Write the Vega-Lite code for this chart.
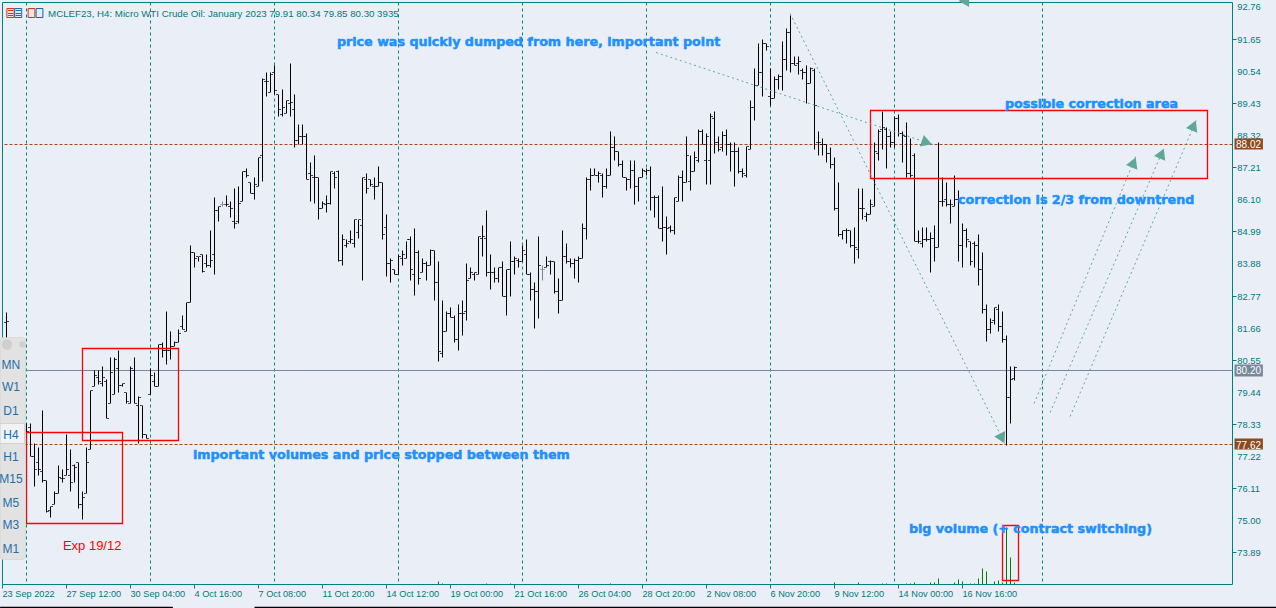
{
"$schema":"https://vega.github.io/schema/vega-lite/v6.json",
"width":1230,"height":582,
"autosize":{"type":"none"},
"padding":{"left":2.5,"top":2.5,"right":43.5,"bottom":23.5},
"background":"#eaeff7",
"config":{"view":{"stroke":null,"fill":"#eaeff7"},"text":{"font":"Liberation Sans"}},
"datasets":{
"bars":[
{"n":1,"h":82.19,"l":81.08,"o":81.87,"c":81.90},
{"n":6,"h":78.38,"l":77.69,"o":78.14,"c":78.10},
{"n":7,"h":78.35,"l":77.21,"o":78.21,"c":77.21},
{"n":8,"h":77.66,"l":76.17,"o":77.21,"c":76.76},
{"n":9,"h":77.52,"l":76.58,"o":77.00,"c":76.76},
{"n":10,"h":78.83,"l":76.34,"o":76.69,"c":76.38},
{"n":11,"h":76.41,"l":75.30,"o":76.38,"c":75.34},
{"n":12,"h":75.51,"l":75.13,"o":75.37,"c":75.48},
{"n":13,"h":76.00,"l":75.58,"o":75.58,"c":75.96},
{"n":14,"h":76.90,"l":75.93,"o":75.93,"c":76.51},
{"n":15,"h":76.76,"l":76.31,"o":76.48,"c":76.45},
{"n":16,"h":78.00,"l":76.58,"o":76.58,"c":76.79},
{"n":17,"h":77.45,"l":76.03,"o":76.58,"c":76.34},
{"n":18,"h":76.93,"l":76.34,"o":76.90,"c":76.86},
{"n":19,"h":77.03,"l":75.41,"o":77.00,"c":75.55},
{"n":20,"h":76.00,"l":75.06,"o":75.55,"c":75.82},
{"n":21,"h":77.55,"l":75.96,"o":75.96,"c":77.03},
{"n":22,"h":79.52,"l":77.45,"o":77.45,"c":79.49},
{"n":23,"h":80.21,"l":79.63,"o":79.63,"c":80.01},
{"n":24,"h":80.21,"l":79.70,"o":79.94,"c":79.83},
{"n":25,"h":80.32,"l":79.63,"o":79.73,"c":79.94},
{"n":26,"h":79.87,"l":78.55,"o":79.83,"c":78.55},
{"n":27,"h":80.66,"l":79.07,"o":79.07,"c":80.14},
{"n":28,"h":80.66,"l":79.35,"o":79.35,"c":80.59},
{"n":29,"h":80.87,"l":79.42,"o":80.28,"c":79.69},
{"n":30,"h":79.73,"l":79.66,"o":79.69,"c":79.73},
{"n":31,"h":79.45,"l":79.07,"o":79.45,"c":79.11},
{"n":32,"h":80.32,"l":79.04,"o":79.04,"c":80.28},
{"n":33,"h":80.63,"l":79.04,"o":80.21,"c":79.04},
{"n":34,"h":79.31,"l":77.66,"o":79.00,"c":79.28},
{"n":35,"h":78.97,"l":77.86,"o":78.97,"c":78.00},
{"n":36,"h":77.97,"l":77.83,"o":77.97,"c":77.86},
{"n":37,"h":80.28,"l":79.38,"o":79.38,"c":80.04},
{"n":38,"h":80.14,"l":79.63,"o":79.80,"c":79.66},
{"n":39,"h":81.08,"l":79.66,"o":79.66,"c":81.08},
{"n":40,"h":81.18,"l":80.66,"o":81.08,"c":80.90},
{"n":41,"h":82.22,"l":80.39,"o":80.90,"c":80.87},
{"n":42,"h":81.53,"l":80.56,"o":80.90,"c":81.04},
{"n":43,"h":81.21,"l":81.01,"o":81.04,"c":81.18},
{"n":44,"h":81.63,"l":81.18,"o":81.18,"c":81.49},
{"n":45,"h":82.11,"l":81.63,"o":81.73,"c":81.63},
{"n":46,"h":82.53,"l":81.56,"o":81.56,"c":82.53},
{"n":47,"h":84.53,"l":82.53,"o":82.53,"c":84.29},
{"n":48,"h":84.29,"l":83.74,"o":84.29,"c":84.08},
{"n":49,"h":84.15,"l":83.98,"o":84.15,"c":84.12},
{"n":50,"h":84.22,"l":83.60,"o":84.22,"c":83.63},
{"n":51,"h":84.19,"l":83.77,"o":83.88,"c":83.81},
{"n":52,"h":85.02,"l":83.77,"o":83.81,"c":84.01},
{"n":53,"h":86.19,"l":83.50,"o":84.19,"c":85.71},
{"n":54,"h":85.88,"l":85.33,"o":85.71,"c":85.88},
{"n":55,"h":86.02,"l":85.85,"o":85.95,"c":85.95},
{"n":56,"h":86.26,"l":85.88,"o":85.95,"c":85.92},
{"n":57,"h":86.02,"l":85.47,"o":85.85,"c":85.81},
{"n":58,"h":86.47,"l":85.12,"o":85.33,"c":85.29},
{"n":59,"h":86.57,"l":85.29,"o":85.33,"c":85.98},
{"n":60,"h":87.06,"l":86.02,"o":86.02,"c":87.06},
{"n":61,"h":87.16,"l":86.85,"o":87.06,"c":86.92},
{"n":62,"h":86.68,"l":86.33,"o":86.68,"c":86.33},
{"n":63,"h":86.85,"l":86.09,"o":86.33,"c":86.64},
{"n":64,"h":87.54,"l":86.57,"o":86.57,"c":87.54},
{"n":65,"h":90.30,"l":86.74,"o":87.64,"c":90.24},
{"n":66,"h":90.51,"l":89.68,"o":90.20,"c":90.17},
{"n":67,"h":90.51,"l":89.79,"o":89.79,"c":90.41},
{"n":68,"h":90.75,"l":89.75,"o":90.51,"c":89.86},
{"n":69,"h":89.75,"l":88.96,"o":89.75,"c":89.20},
{"n":70,"h":89.89,"l":88.99,"o":89.03,"c":89.30},
{"n":71,"h":89.54,"l":89.09,"o":89.09,"c":89.51},
{"n":72,"h":90.79,"l":88.96,"o":89.44,"c":89.47},
{"n":73,"h":89.72,"l":87.89,"o":89.20,"c":88.16},
{"n":74,"h":88.71,"l":88.02,"o":88.16,"c":88.27},
{"n":75,"h":88.71,"l":87.99,"o":88.27,"c":88.30},
{"n":76,"h":88.37,"l":86.78,"o":88.27,"c":86.78},
{"n":77,"h":87.37,"l":86.02,"o":86.99,"c":86.92},
{"n":78,"h":87.61,"l":85.98,"o":86.88,"c":86.85},
{"n":79,"h":86.88,"l":85.40,"o":86.85,"c":85.78},
{"n":80,"h":86.05,"l":85.78,"o":85.78,"c":85.98},
{"n":81,"h":86.26,"l":85.67,"o":85.95,"c":85.98},
{"n":82,"h":87.06,"l":85.95,"o":85.98,"c":87.06},
{"n":83,"h":87.06,"l":86.50,"o":87.02,"c":86.88},
{"n":84,"h":87.12,"l":83.98,"o":87.06,"c":84.01},
{"n":85,"h":84.88,"l":83.81,"o":84.01,"c":84.71},
{"n":86,"h":84.71,"l":84.46,"o":84.50,"c":84.60},
{"n":87,"h":85.02,"l":84.57,"o":84.64,"c":84.71},
{"n":88,"h":85.40,"l":84.43,"o":84.57,"c":85.40},
{"n":89,"h":85.43,"l":84.77,"o":84.95,"c":85.43},
{"n":90,"h":86.85,"l":83.32,"o":85.19,"c":86.85},
{"n":91,"h":86.99,"l":86.33,"o":86.81,"c":86.50},
{"n":92,"h":86.81,"l":86.54,"o":86.78,"c":86.61},
{"n":93,"h":86.88,"l":86.12,"o":86.57,"c":86.54},
{"n":94,"h":87.26,"l":86.54,"o":86.54,"c":86.71},
{"n":95,"h":86.71,"l":84.71,"o":86.71,"c":84.88},
{"n":96,"h":85.60,"l":83.46,"o":85.15,"c":83.91},
{"n":97,"h":84.05,"l":83.22,"o":83.91,"c":84.01},
{"n":98,"h":83.70,"l":83.50,"o":83.70,"c":83.53},
{"n":99,"h":84.19,"l":83.50,"o":83.53,"c":84.12},
{"n":100,"h":84.36,"l":83.81,"o":84.08,"c":84.19},
{"n":101,"h":84.67,"l":84.08,"o":84.08,"c":84.71},
{"n":102,"h":84.81,"l":83.32,"o":84.71,"c":83.67},
{"n":103,"h":85.09,"l":82.80,"o":83.50,"c":84.26},
{"n":104,"h":84.36,"l":83.18,"o":84.26,"c":83.36},
{"n":105,"h":84.05,"l":83.57,"o":83.57,"c":83.88},
{"n":106,"h":83.98,"l":83.32,"o":83.88,"c":83.84},
{"n":107,"h":84.39,"l":83.84,"o":83.84,"c":84.36},
{"n":108,"h":84.33,"l":82.60,"o":84.33,"c":83.25},
{"n":109,"h":83.95,"l":80.52,"o":83.25,"c":80.84},
{"n":110,"h":82.60,"l":80.66,"o":80.80,"c":81.53},
{"n":111,"h":82.22,"l":81.53,"o":81.53,"c":82.18},
{"n":112,"h":82.39,"l":82.04,"o":82.15,"c":82.04},
{"n":113,"h":82.11,"l":81.18,"o":82.04,"c":81.25},
{"n":114,"h":82.46,"l":80.87,"o":81.25,"c":82.15},
{"n":115,"h":82.63,"l":81.42,"o":82.15,"c":82.18},
{"n":116,"h":83.91,"l":81.94,"o":82.22,"c":83.32},
{"n":117,"h":83.77,"l":83.36,"o":83.36,"c":83.57},
{"n":118,"h":83.60,"l":83.29,"o":83.53,"c":83.57},
{"n":119,"h":84.84,"l":83.53,"o":83.53,"c":84.81},
{"n":120,"h":85.19,"l":84.12,"o":84.77,"c":84.81},
{"n":121,"h":85.71,"l":83.43,"o":84.77,"c":83.60},
{"n":122,"h":84.22,"l":83.01,"o":83.60,"c":83.57},
{"n":123,"h":83.74,"l":83.25,"o":83.57,"c":83.36},
{"n":124,"h":83.77,"l":83.25,"o":83.36,"c":83.74},
{"n":125,"h":83.98,"l":82.74,"o":83.74,"c":82.77},
{"n":126,"h":83.67,"l":82.08,"o":82.77,"c":83.67},
{"n":127,"h":84.64,"l":82.74,"o":83.70,"c":83.95},
{"n":128,"h":84.12,"l":83.50,"o":83.95,"c":84.08},
{"n":129,"h":84.05,"l":83.74,"o":84.01,"c":83.98},
{"n":130,"h":84.50,"l":83.98,"o":83.98,"c":84.36},
{"n":131,"h":84.71,"l":83.50,"o":84.22,"c":83.53},
{"n":132,"h":83.60,"l":82.60,"o":83.53,"c":83.01},
{"n":133,"h":83.25,"l":81.66,"o":82.98,"c":82.94},
{"n":134,"h":84.81,"l":82.01,"o":82.94,"c":83.81},
{"n":135,"h":83.84,"l":83.32,"o":83.67,"c":83.67},
{"n":136,"h":84.12,"l":83.74,"o":83.74,"c":83.84},
{"n":137,"h":84.01,"l":83.53,"o":83.98,"c":83.95},
{"n":138,"h":83.98,"l":82.87,"o":83.95,"c":82.94},
{"n":139,"h":83.36,"l":82.18,"o":82.94,"c":82.63},
{"n":140,"h":85.02,"l":82.63,"o":82.63,"c":84.15},
{"n":141,"h":84.57,"l":83.91,"o":84.15,"c":83.95},
{"n":142,"h":84.05,"l":83.74,"o":83.95,"c":83.88},
{"n":143,"h":84.05,"l":83.39,"o":83.88,"c":84.01},
{"n":144,"h":84.15,"l":83.22,"o":84.01,"c":84.05},
{"n":145,"h":85.26,"l":84.05,"o":84.05,"c":85.09},
{"n":146,"h":86.88,"l":84.74,"o":85.12,"c":86.81},
{"n":147,"h":87.16,"l":86.40,"o":86.78,"c":86.92},
{"n":148,"h":87.16,"l":86.92,"o":86.92,"c":86.95},
{"n":149,"h":87.09,"l":86.71,"o":86.95,"c":86.99},
{"n":150,"h":86.99,"l":86.16,"o":86.95,"c":86.57},
{"n":151,"h":87.16,"l":86.47,"o":86.57,"c":86.95},
{"n":152,"h":88.47,"l":86.95,"o":86.95,"c":87.92},
{"n":153,"h":88.30,"l":87.47,"o":87.92,"c":87.78},
{"n":154,"h":87.78,"l":87.23,"o":87.75,"c":87.30},
{"n":155,"h":87.47,"l":86.88,"o":87.30,"c":86.88},
{"n":156,"h":86.88,"l":86.40,"o":86.88,"c":86.78},
{"n":157,"h":87.47,"l":86.47,"o":86.78,"c":87.12},
{"n":158,"h":87.44,"l":85.92,"o":87.12,"c":86.57},
{"n":159,"h":86.88,"l":86.05,"o":86.54,"c":86.88},
{"n":160,"h":87.19,"l":86.88,"o":86.88,"c":87.12},
{"n":161,"h":87.19,"l":86.95,"o":87.06,"c":87.12},
{"n":162,"h":87.26,"l":85.71,"o":87.12,"c":86.16},
{"n":163,"h":86.23,"l":85.50,"o":86.16,"c":86.19},
{"n":164,"h":86.23,"l":85.09,"o":86.16,"c":85.12},
{"n":165,"h":86.54,"l":84.67,"o":85.12,"c":85.15},
{"n":166,"h":85.53,"l":84.19,"o":85.15,"c":85.12},
{"n":167,"h":85.22,"l":84.98,"o":85.15,"c":85.02},
{"n":168,"h":86.19,"l":84.88,"o":85.02,"c":86.16},
{"n":169,"h":86.92,"l":86.02,"o":86.05,"c":86.85},
{"n":170,"h":87.12,"l":86.05,"o":86.85,"c":86.68},
{"n":171,"h":88.27,"l":86.68,"o":86.68,"c":87.64},
{"n":172,"h":87.64,"l":86.43,"o":86.74,"c":87.06},
{"n":173,"h":87.78,"l":87.06,"o":87.06,"c":87.54},
{"n":174,"h":88.51,"l":87.37,"o":87.47,"c":88.44},
{"n":175,"h":88.51,"l":87.99,"o":88.44,"c":88.02},
{"n":176,"h":88.40,"l":86.64,"o":87.44,"c":88.30},
{"n":177,"h":89.09,"l":86.61,"o":87.47,"c":88.96},
{"n":178,"h":89.13,"l":87.71,"o":88.92,"c":88.06},
{"n":179,"h":88.30,"l":87.75,"o":88.06,"c":87.82},
{"n":180,"h":88.47,"l":87.78,"o":87.89,"c":88.33},
{"n":181,"h":88.51,"l":87.61,"o":88.33,"c":88.02},
{"n":182,"h":88.06,"l":87.09,"o":88.02,"c":87.75},
{"n":183,"h":88.06,"l":86.57,"o":87.75,"c":87.78},
{"n":184,"h":87.89,"l":87.02,"o":87.75,"c":87.09},
{"n":185,"h":87.19,"l":86.85,"o":87.09,"c":87.02},
{"n":186,"h":87.95,"l":86.85,"o":86.92,"c":87.95},
{"n":187,"h":89.54,"l":87.82,"o":87.82,"c":89.27},
{"n":188,"h":90.65,"l":88.85,"o":89.27,"c":90.06},
{"n":189,"h":91.48,"l":90.03,"o":90.06,"c":90.51},
{"n":190,"h":91.65,"l":89.65,"o":90.51,"c":91.48},
{"n":191,"h":91.48,"l":91.27,"o":91.48,"c":91.41},
{"n":192,"h":90.65,"l":89.34,"o":89.68,"c":89.58},
{"n":193,"h":90.34,"l":89.61,"o":89.61,"c":90.24},
{"n":194,"h":90.41,"l":89.92,"o":90.24,"c":90.34},
{"n":195,"h":91.55,"l":89.86,"o":90.34,"c":90.93},
{"n":196,"h":92.03,"l":90.55,"o":90.93,"c":91.89},
{"n":197,"h":92.48,"l":90.51,"o":91.89,"c":90.79},
{"n":198,"h":91.06,"l":90.72,"o":90.79,"c":90.75},
{"n":199,"h":91.06,"l":90.41,"o":90.82,"c":90.86},
{"n":200,"h":90.65,"l":90.24,"o":90.58,"c":90.51},
{"n":201,"h":90.72,"l":89.41,"o":90.51,"c":90.10},
{"n":202,"h":90.68,"l":90.13,"o":90.13,"c":90.65},
{"n":203,"h":90.65,"l":87.82,"o":90.58,"c":89.37},
{"n":204,"h":88.44,"l":87.64,"o":88.09,"c":88.06},
{"n":205,"h":88.20,"l":87.61,"o":88.02,"c":87.99},
{"n":206,"h":88.02,"l":87.40,"o":87.99,"c":87.71},
{"n":207,"h":87.92,"l":87.16,"o":87.71,"c":87.30},
{"n":208,"h":87.57,"l":85.71,"o":87.30,"c":85.78},
{"n":209,"h":86.68,"l":84.81,"o":85.78,"c":84.91},
{"n":210,"h":85.05,"l":84.71,"o":84.91,"c":85.02},
{"n":211,"h":85.09,"l":84.57,"o":85.02,"c":85.05},
{"n":212,"h":85.05,"l":84.46,"o":85.02,"c":84.53},
{"n":213,"h":85.15,"l":83.88,"o":84.53,"c":84.43},
{"n":214,"h":86.47,"l":84.08,"o":84.39,"c":85.81},
{"n":215,"h":86.50,"l":85.40,"o":85.81,"c":85.78},
{"n":216,"h":85.64,"l":85.36,"o":85.53,"c":85.57},
{"n":217,"h":86.12,"l":85.57,"o":85.57,"c":85.92},
{"n":218,"h":88.06,"l":85.85,"o":85.85,"c":87.75},
{"n":219,"h":88.51,"l":87.47,"o":87.71,"c":88.47},
{"n":220,"h":89.16,"l":87.82,"o":88.54,"c":88.58},
{"n":221,"h":88.58,"l":87.19,"o":88.54,"c":88.27},
{"n":222,"h":88.44,"l":87.89,"o":88.27,"c":88.06},
{"n":223,"h":88.96,"l":87.89,"o":88.06,"c":88.92},
{"n":224,"h":89.03,"l":88.27,"o":88.92,"c":88.40},
{"n":225,"h":88.44,"l":87.40,"o":88.37,"c":88.33},
{"n":226,"h":88.78,"l":86.85,"o":88.30,"c":86.99},
{"n":227,"h":88.23,"l":86.85,"o":86.99,"c":86.95},
{"n":228,"h":87.71,"l":84.64,"o":87.61,"c":84.67},
{"n":229,"h":85.02,"l":84.57,"o":84.67,"c":84.64},
{"n":230,"h":85.15,"l":84.46,"o":84.60,"c":84.71},
{"n":231,"h":85.15,"l":84.67,"o":84.71,"c":84.74},
{"n":232,"h":84.98,"l":83.57,"o":84.71,"c":84.77},
{"n":233,"h":85.19,"l":83.98,"o":84.77,"c":84.46},
{"n":234,"h":88.06,"l":84.43,"o":84.46,"c":86.02},
{"n":235,"h":86.85,"l":85.88,"o":86.02,"c":86.05},
{"n":236,"h":86.68,"l":85.88,"o":86.09,"c":85.92},
{"n":237,"h":86.09,"l":85.29,"o":85.92,"c":85.95},
{"n":238,"h":86.92,"l":85.85,"o":85.85,"c":86.09},
{"n":239,"h":86.43,"l":83.98,"o":86.09,"c":84.50},
{"n":240,"h":85.26,"l":83.74,"o":84.50,"c":85.02},
{"n":241,"h":85.09,"l":84.46,"o":85.02,"c":84.71},
{"n":242,"h":84.64,"l":83.84,"o":84.64,"c":83.95},
{"n":243,"h":84.64,"l":83.77,"o":84.60,"c":84.50},
{"n":244,"h":84.88,"l":83.15,"o":84.50,"c":83.67},
{"n":245,"h":84.29,"l":82.18,"o":83.70,"c":82.32},
{"n":246,"h":82.46,"l":81.21,"o":82.32,"c":81.63},
{"n":247,"h":81.98,"l":81.46,"o":81.63,"c":81.87},
{"n":248,"h":82.39,"l":81.80,"o":81.94,"c":82.36},
{"n":249,"h":82.46,"l":81.53,"o":82.32,"c":81.70},
{"n":250,"h":82.22,"l":81.15,"o":81.70,"c":81.25},
{"n":251,"h":81.39,"l":77.62,"o":81.25,"c":79.25},
{"n":252,"h":80.35,"l":78.35,"o":79.25,"c":79.90},
{"n":253,"h":80.34,"l":79.85,"o":79.91,"c":80.30}
],
"vols":[
{"n":109,"v":6000},{"n":110,"v":2000},{"n":121,"v":2000},{"n":127,"v":2000},{"n":152,"v":2000},{"n":208,"v":4000},{"n":214,"v":4000},
{"n":220,"v":2000},{"n":221,"v":2000},{"n":226,"v":2000},{"n":227,"v":2000},{"n":228,"v":4000},
{"n":232,"v":4000},{"n":233,"v":4000},{"n":234,"v":12000},{"n":238,"v":4000},{"n":239,"v":10000},
{"n":240,"v":6000},{"n":242,"v":2000},{"n":243,"v":2000},{"n":244,"v":12000},{"n":245,"v":31000},
{"n":246,"v":26000},{"n":248,"v":6000},{"n":249,"v":8000},{"n":250,"v":4000},{"n":251,"v":112000},
{"n":252,"v":53000},{"n":253,"v":3935}
],
"seps":[{"n":6},{"n":37},{"n":68},{"n":99},{"n":130},{"n":161},{"n":192},{"n":223},{"n":260}],
"ylabels":[{"p":92.76},{"p":91.65},{"p":90.54},{"p":89.43},{"p":88.32},{"p":87.21},{"p":86.10},{"p":84.99},{"p":83.88},{"p":82.77},{"p":81.66},{"p":80.55},{"p":79.44},{"p":78.33},{"p":77.22},{"p":76.11},{"p":75.00},{"p":73.89}],
"boxes":[
{"a":217,"b":301.25,"top":89.18,"bot":86.82},
{"a":20,"b":44,"top":80.96,"bot":77.78},
{"a":6,"b":30,"top":78.07,"bot":74.91},
{"a":250,"b":254,"top":74.84,"bot":72.94}
],
"arrows":[
{"id":1,"n":163.4,"p":91.20},{"id":1,"n":232.6,"p":88.02},
{"id":2,"n":196.9,"p":92.52},{"id":2,"n":250.6,"p":77.69},
{"id":3,"n":257.9,"p":79.07},{"id":3,"n":283.4,"p":87.61},
{"id":4,"n":261.9,"p":78.73},{"id":4,"n":290.4,"p":87.89},
{"id":5,"n":266.9,"p":78.59},{"id":5,"n":298.4,"p":88.85}
],
"tips":[
{"n":231.1,"p":88.09,"dir":108.6},
{"n":249.9,"p":77.86,"dir":153.4},
{"n":282.8,"p":87.40,"dir":22.4},
{"n":289.8,"p":87.68,"dir":23.3},
{"n":297.8,"p":88.65,"dir":23},
{"n":241,"p":92.92,"dir":150}
],
"notes":[
{"n":83.6,"p":91.55,"t":"price was quickly dumped from here, important point"},
{"n":250.6,"p":89.41,"t":"possible correction area"},
{"n":238.9,"p":86.12,"t":"correction is 2/3 from downtrend"},
{"n":47.6,"p":77.31,"t":"important volumes and price stopped between them"},
{"n":226.6,"p":74.72,"t":"big volume (+ contract switching)"}
],
"tags":[
{"p":88.02,"top":88.21,"bot":87.83,"a":308,"b":315.1,"kind":"level"},
{"p":77.62,"top":77.84,"bot":77.46,"a":308,"b":315.1,"kind":"level"},
{"p":80.20,"top":80.40,"bot":80.00,"a":308,"b":315.1,"kind":"bid"}
],
"tf":[
{"t":"MN","p":80.39},{"t":"W1","p":79.63},{"t":"D1","p":78.83},{"t":"H4","p":78.00},{"t":"H1","p":77.24},
{"t":"M15","p":76.45},{"t":"M5","p":75.62},{"t":"M3","p":74.86},{"t":"M1","p":74.06}
],
"icons":[
{"a":1.1,"b":2.9,"side":"r"},{"a":3.05,"b":4.8,"side":"b"},{"a":6.4,"b":8.1,"side":"r"},{"a":8.4,"b":10.1,"side":"b"}
]
},
"layer":[
{
"data":{"name":"vols"},
"mark":{"type":"bar","size":1,"color":"#008000"},
"encoding":{
"x":{"field":"n","type":"quantitative","scale":{"domain":[0,307.5],"nice":false,"zero":false,"padding":0}},
"y":{"field":"v","type":"quantitative","scale":{"domain":[0,1144794],"nice":false,"round":true},"axis":null}
}
},
{
"layer":[
{
"data":{"name":"seps"},
"mark":{"type":"rule","color":"#008878","strokeWidth":1,"strokeDash":[3,3]},
"encoding":{
"x":{"field":"n","type":"quantitative","scale":{"domain":[0,307.5],"nice":false,"zero":false,"padding":0},
"axis":{"title":null,"grid":false,"domain":false,"translate":0,"values":[0,16,32,48,64,80,96,112,128,144,160,176,192,208,224,240],
"labelExpr":"{'0':'23 Sep 2022','16':'27 Sep 12:00','32':'30 Sep 04:00','48':'4 Oct 16:00','64':'7 Oct 08:00','80':'11 Oct 20:00','96':'14 Oct 12:00','112':'19 Oct 00:00','128':'21 Oct 16:00','144':'26 Oct 04:00','160':'28 Oct 20:00','176':'2 Nov 08:00','192':'6 Nov 20:00','208':'9 Nov 12:00','224':'14 Nov 00:00','240':'16 Nov 16:00'}[datum.value]",
"labelAlign":"left","labelFont":"Liberation Sans","labelFontSize":9.2,"labelColor":"#007a7a","tickColor":"#008080","tickSize":4,"labelPadding":1,"labelFlush":false,"labelOverlap":false}}
}
},
{
"data":{"values":[{"n":0},{"n":307.5}]},
"mark":{"type":"rule","color":"#008080","strokeWidth":1},
"encoding":{"x":{"field":"n","type":"quantitative"}}
},
{
"data":{"values":[{"p":92.914},{"p":72.80}]},
"mark":{"type":"rule","color":"#008080","strokeWidth":1},
"encoding":{
"y":{"field":"p","type":"quantitative","scale":{"domain":[72.80,92.914],"nice":false,"zero":false,"round":true},
"axis":{"title":null,"grid":false,"domain":false,"labels":false,"translate":0,"orient":"right","values":[92.76,91.65,90.54,89.43,88.32,87.21,86.10,84.99,83.88,82.77,81.66,80.55,79.44,78.33,77.22,76.11,75.00,73.89],
"tickColor":"#008080","tickSize":4}}
}
},
{
"data":{"name":"ylabels"},
"mark":{"type":"text","font":"Liberation Sans","fontSize":9.4,"color":"#007a7a","align":"left","baseline":"middle"},
"encoding":{
"x":{"datum":308.7,"type":"quantitative"},
"y":{"field":"p","type":"quantitative"},
"text":{"field":"p","type":"quantitative","format":".2f"}
}
},
{
"data":{"values":[{"p":88.02},{"p":77.65}]},
"mark":{"type":"rule","color":"#a5431a","strokeWidth":1,"strokeDash":[3,2]},
"encoding":{"y":{"field":"p","type":"quantitative"}}
},
{
"data":{"values":[{"p":80.20}]},
"mark":{"type":"rule","color":"#778899","strokeWidth":1},
"encoding":{"y":{"field":"p","type":"quantitative"}}
},
{
"data":{"name":"bars"},
"mark":{"type":"rule","strokeWidth":1},
"encoding":{
"x":{"field":"n","type":"quantitative"},
"y":{"field":"h","type":"quantitative"},
"y2":{"field":"l"},
"color":{"condition":{"test":"datum.o==datum.c","value":"#778899"},"value":"#000000"}
}
},
{
"data":{"name":"bars"},
"mark":{"type":"tick","orient":"horizontal","size":2,"thickness":1,"xOffset":-1.5},
"encoding":{
"x":{"field":"n","type":"quantitative"},
"y":{"field":"o","type":"quantitative"},
"color":{"condition":{"test":"datum.o==datum.c","value":"#778899"},"value":"#000000"}
}
},
{
"data":{"name":"bars"},
"mark":{"type":"tick","orient":"horizontal","size":2,"thickness":1,"xOffset":1.5},
"encoding":{
"x":{"field":"n","type":"quantitative"},
"y":{"field":"c","type":"quantitative"},
"color":{"condition":{"test":"datum.o==datum.c","value":"#778899"},"value":"#000000"}
}
},
{
"data":{"name":"boxes"},
"mark":{"type":"rect","filled":false,"stroke":"#ff0000","strokeWidth":1.3},
"encoding":{
"x":{"field":"a","type":"quantitative"},"x2":{"field":"b"},
"y":{"field":"top","type":"quantitative"},"y2":{"field":"bot"}
}
},
{
"data":{"name":"arrows"},
"mark":{"type":"line","color":"#5fa898","strokeWidth":1,"strokeDash":[2,3]},
"encoding":{
"x":{"field":"n","type":"quantitative"},
"y":{"field":"p","type":"quantitative"},
"detail":{"field":"id"}
}
},
{
"data":{"name":"tips"},
"mark":{"type":"point","shape":"triangle-up","filled":true,"opacity":1,"color":"#5fa898","size":150},
"encoding":{
"x":{"field":"n","type":"quantitative"},
"y":{"field":"p","type":"quantitative"},
"angle":{"field":"dir","type":"quantitative","scale":null}
}
},
{
"data":{"name":"notes"},
"mark":{"type":"text","font":"DejaVu Sans","fontWeight":"bold","fontSize":12.7,"color":"#1e90ff","stroke":"#1e90ff","strokeWidth":0.5,"align":"left","baseline":"middle"},
"encoding":{
"x":{"field":"n","type":"quantitative"},
"y":{"field":"p","type":"quantitative"},
"text":{"field":"t"}
}
},
{
"data":{"values":[{"n":15.1,"p":74.16,"t":"Exp 19/12"}]},
"mark":{"type":"text","font":"Liberation Sans","fontSize":13,"color":"#ff0000","align":"left","baseline":"middle"},
"encoding":{
"x":{"field":"n","type":"quantitative"},
"y":{"field":"p","type":"quantitative"},
"text":{"field":"t"}
}
},
{
"data":{"values":[{"n":11.4,"p":92.55,"t":"MCLEF23, H4:  Micro WTI Crude Oil: January 2023  79.91 80.34 79.85 80.30  3935"}]},
"mark":{"type":"text","font":"Liberation Sans","fontSize":9.7,"color":"#007a7a","align":"left","baseline":"middle"},
"encoding":{
"x":{"field":"n","type":"quantitative"},
"y":{"field":"p","type":"quantitative"},
"text":{"field":"t"}
}
},
{
"data":{"name":"icons"},
"transform":[{"filter":"datum.side=='r'"}],
"mark":{"type":"rect","fill":"#fde3df","stroke":"#e03020","strokeWidth":1},
"encoding":{
"x":{"field":"a","type":"quantitative"},"x2":{"field":"b"},
"y":{"datum":92.72,"type":"quantitative"},"y2":{"datum":92.38}
}
},
{
"data":{"name":"icons"},
"transform":[{"filter":"datum.side=='b'"}],
"mark":{"type":"rect","fill":"#dfeefa","stroke":"#1565a8","strokeWidth":1},
"encoding":{
"x":{"field":"a","type":"quantitative"},"x2":{"field":"b"},
"y":{"datum":92.72,"type":"quantitative"},"y2":{"datum":92.38}
}
},
{
"data":{"values":[{"a":1.4,"b":2.7,"p":92.64},{"a":1.4,"b":2.7,"p":92.55},{"a":1.4,"b":2.7,"p":92.46}]},
"mark":{"type":"rule","color":"#e03020","strokeWidth":1},
"encoding":{
"x":{"field":"a","type":"quantitative"},"x2":{"field":"b"},
"y":{"field":"p","type":"quantitative"}
}
},
{
"data":{"values":[{"a":3.3,"b":4.6,"p":92.64},{"a":3.3,"b":4.6,"p":92.55},{"a":3.3,"b":4.6,"p":92.46}]},
"mark":{"type":"rule","color":"#1565a8","strokeWidth":1},
"encoding":{
"x":{"field":"a","type":"quantitative"},"x2":{"field":"b"},
"y":{"field":"p","type":"quantitative"}
}
},
{
"data":{"name":"tags"},
"mark":{"type":"rect"},
"encoding":{
"x":{"field":"a","type":"quantitative"},"x2":{"field":"b"},
"y":{"field":"top","type":"quantitative"},"y2":{"field":"bot"},
"color":{"field":"kind","type":"nominal","legend":null,"scale":{"domain":["level","bid"],"range":["#8b4a20","#778899"]}}
}
},
{
"data":{"name":"tags"},
"mark":{"type":"text","font":"Liberation Sans","fontSize":10,"color":"#ffffff","align":"left","baseline":"middle","dx":1.5},
"encoding":{
"x":{"field":"a","type":"quantitative"},
"y":{"field":"p","type":"quantitative"},
"text":{"field":"p","type":"quantitative","format":".2f"}
}
},
{
"data":{"values":[{"a":-0.6,"b":42.6},{"a":63,"b":318.4}]},
"mark":{"type":"rule","color":"#000000","strokeWidth":1.5},
"encoding":{
"x":{"field":"a","type":"quantitative"},"x2":{"field":"b"},
"y":{"datum":72.00,"type":"quantitative"}
}
},
{
"data":{"values":[{"a":-0.6,"b":5.75,"top":81.35,"bot":73.65}]},
"mark":{"type":"rect","fill":"#e2e2e2","stroke":"#cccccc","strokeWidth":0.5,"cornerRadius":3},
"encoding":{
"x":{"field":"a","type":"quantitative"},"x2":{"field":"b"},
"y":{"field":"top","type":"quantitative"},"y2":{"field":"bot"}
}
},
{
"data":{"values":[{"a":-0.6,"b":5.5,"top":78.35,"bot":77.69}]},
"mark":{"type":"rect","fill":"#f2f2f2","stroke":"#bbbbbb","strokeWidth":0.5},
"encoding":{
"x":{"field":"a","type":"quantitative"},"x2":{"field":"b"},
"y":{"field":"top","type":"quantitative"},"y2":{"field":"bot"}
}
},
{
"data":{"values":[{"n":1.1,"p":81.11,"s":110},{"n":5,"p":81.11,"s":40}]},
"mark":{"type":"circle","color":"#cfcfcf","opacity":1},
"encoding":{
"x":{"field":"n","type":"quantitative"},
"y":{"field":"p","type":"quantitative"},
"size":{"field":"s","type":"quantitative","scale":null}
}
},
{
"data":{"name":"tf"},
"mark":{"type":"text","font":"Liberation Sans","fontSize":12,"color":"#1f6fa8","align":"center","baseline":"middle"},
"encoding":{
"x":{"datum":2.1,"type":"quantitative"},
"y":{"field":"p","type":"quantitative"},
"text":{"field":"t"}
}
}
]
}
],
"resolve":{"scale":{"y":"independent"}}
}
